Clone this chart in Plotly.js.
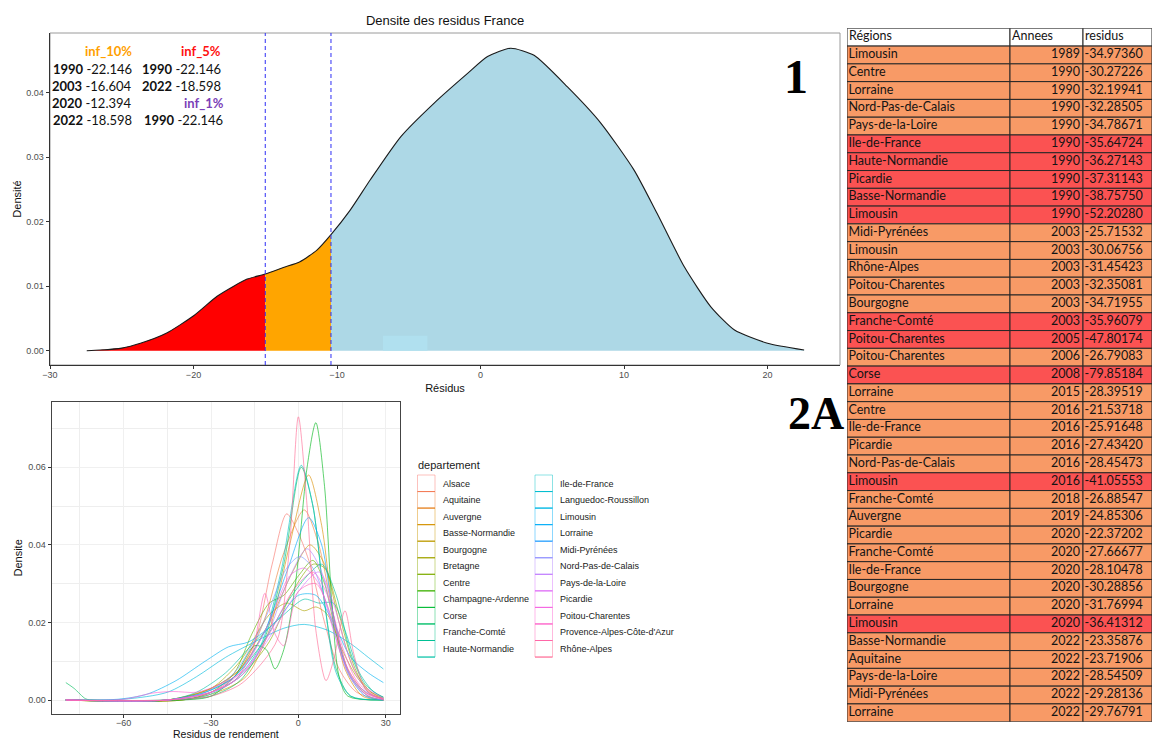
<!DOCTYPE html>
<html>
<head>
<meta charset="utf-8">
<script src="https://cdn.plot.ly/plotly-3.0.1.min.js"></script>
<style>
  html, body { margin: 0; padding: 0; background: #fff; }
  #chart { width: 1153px; height: 740px; }
</style>
</head>
<body>
<div id="chart"></div>
<script>
// ---------- Panel 1: national residual density ----------
const franceX = [-27.44, -26.5, -25.0, -23.7, -21.9, -19.94, -18.38, -17.2, -16.26, -15.0, -13.74, -12.58, -11.4, -10.42, -9.08, -7.68, -5.55, -3.23, -0.9, 0.49, 2.1, 3.73, 6.06, 8.38, 10.7, 12.3, 14.2, 16.05, 17.7, 20.0, 22.55];
const franceY = [0.0, 0.0001, 0.0004, 0.00115, 0.0027, 0.0055, 0.0084, 0.0100, 0.0111, 0.0119, 0.0129, 0.0138, 0.0156, 0.0180, 0.0218, 0.0265, 0.0332, 0.0384, 0.0430, 0.0456, 0.0469, 0.0458, 0.0409, 0.0353, 0.0280, 0.0213, 0.0130, 0.0068, 0.0032, 0.00115, 0.0001];
const q5 = -15.0;
const q10 = -10.42;
const bandX = [-6.8, -3.7];
const bandY = [0.0023, 0.0023];

const inf10Years = [1990, 2003, 2020, 2022];
const inf10Vals = ['-22.146', '-16.604', '-12.394', '-18.598'];
const inf5Years = [1990, 2022];
const inf5Vals = ['-22.146', '-18.598'];
const inf1Years = [1990];
const inf1Vals = ['-22.146'];

// ---------- Panel 2A: table of low residuals ----------
const tabHeader = ['Régions', 'Annees', 'residus'];
const tabRegions = ['Limousin','Centre','Lorraine','Nord-Pas-de-Calais','Pays-de-la-Loire','Ile-de-France','Haute-Normandie','Picardie','Basse-Normandie','Limousin','Midi-Pyrénées','Limousin','Rhône-Alpes','Poitou-Charentes','Bourgogne','Franche-Comté','Poitou-Charentes','Poitou-Charentes','Corse','Lorraine','Centre','Ile-de-France','Picardie','Nord-Pas-de-Calais','Limousin','Franche-Comté','Auvergne','Picardie','Franche-Comté','Ile-de-France','Bourgogne','Lorraine','Limousin','Basse-Normandie','Aquitaine','Pays-de-la-Loire','Midi-Pyrénées','Lorraine'];
const tabYears = [1989,1990,1990,1990,1990,1990,1990,1990,1990,1990,2003,2003,2003,2003,2003,2003,2005,2006,2008,2015,2016,2016,2016,2016,2016,2018,2019,2020,2020,2020,2020,2020,2020,2022,2022,2022,2022,2022];
const tabResid = [-34.97360,-30.27226,-32.19941,-32.28505,-34.78671,-35.64724,-36.27143,-37.31143,-38.75750,-52.20280,-25.71532,-30.06756,-31.45423,-32.35081,-34.71955,-35.96079,-47.80174,-26.79083,-79.85184,-28.39519,-21.53718,-25.91648,-27.43420,-28.45473,-41.05553,-26.88547,-24.85306,-22.37202,-27.66677,-28.10478,-30.28856,-31.76994,-36.41312,-23.35876,-23.71906,-28.54509,-29.28136,-29.76791];
const severeLimit = -35;

// ---------- Bottom panel: regional densities ----------
const departements = ['Alsace','Aquitaine','Auvergne','Basse-Normandie','Bourgogne','Bretagne','Centre','Champagne-Ardenne','Corse','Franche-Comté','Haute-Normandie','Ile-de-France','Languedoc-Roussillon','Limousin','Lorraine','Midi-Pyrénées','Nord-Pas-de-Calais','Pays-de-la-Loire','Picardie','Poitou-Charentes',"Provence-Alpes-Côte-d'Azur",'Rhône-Alpes'];

const xAlsace = [-79.85,-40,-30,-22,-15,-9,-4,0,4,9,14,20,29.2];
const yAlsace = [0,0,0.002,0.006,0.015,0.035,0.048,0.043,0.035,0.020,0.008,0.002,0];
const xAquitaine = [-79.85,-45,-30,-20,-12,-5,2,7,12,17,23,29.2];
const yAquitaine = [0,0,0.003,0.008,0.020,0.038,0.049,0.040,0.022,0.008,0.002,0.0003];
const xAuvergne = [-79.85,-40,-28,-18,-10,-3,3.5,8,12,16,22,29.2];
const yAuvergne = [0,0,0.002,0.006,0.018,0.040,0.058,0.045,0.022,0.008,0.001,0];
const xBasseNormandie = [-79.85,-45,-30,-20,-10,-2,4,9,14,19,25,29.2];
const yBasseNormandie = [0,0,0.003,0.008,0.020,0.033,0.040,0.035,0.020,0.008,0.002,0.0005];
const xBourgogne = [-79.85,-45,-30,-20,-10,-4,2,6,10,15,20,25,29.2];
const yBourgogne = [0,0,0.003,0.010,0.022,0.025,0.023,0.024,0.022,0.013,0.006,0.002,0.0007];
const xBretagne = [-79.85,-45,-30,-20,-10,-2,5,9,14,19,24,29.2];
const yBretagne = [0,0,0.002,0.006,0.015,0.028,0.035,0.034,0.022,0.009,0.002,0.0004];
const xCentre = [-79.85,-40,-30,-22,-16,-10,-5,0,5,9,13,18,24,29.2];
const yCentre = [0,0,0.002,0.007,0.017,0.025,0.027,0.032,0.036,0.030,0.017,0.006,0.001,0];
const xChampagne = [-79.85,-40,-30,-22,-15,-11,-8,-5,-1,3,6,9,11.5,14,17,29.2];
const yChampagne = [0,0,0.001,0.006,0.014,0.013,0.008,0.013,0.030,0.060,0.0715,0.055,0.025,0.006,0.001,0];
const xCorse = [-79.85,-77,-73,-70,-45,-30,-20,-12,-5,1,5,9,13,18,29.2];
const yCorse = [0.0045,0.003,0.0003,0,0,0.001,0.005,0.015,0.035,0.060,0.050,0.025,0.008,0.001,0];
const xFrancheComte = [-79.85,-45,-32,-22,-12,-4,3,8,13,18,23,29.2];
const yFrancheComte = [0,0,0.002,0.006,0.015,0.025,0.032,0.035,0.027,0.012,0.004,0.0006];
const xHauteNormandie = [-79.85,-45,-35,-25,-15,-5,2,7,12,16,21,26,29.2];
const yHauteNormandie = [0,0,0.002,0.007,0.015,0.022,0.026,0.025,0.025,0.018,0.007,0.002,0.0008];
const xIleDeFrance = [-79.85,-45,-32,-22,-13,-6,1,5,9,13,18,29.2];
const yIleDeFrance = [0,0,0.001,0.005,0.014,0.033,0.0605,0.050,0.025,0.007,0.001,0];
const xLanguedoc = [-79.85,-60,-45,-35,-25,-15,-5,2,10,18,24,29.2];
const yLanguedoc = [0,0.0002,0.002,0.006,0.011,0.015,0.0185,0.0195,0.018,0.0145,0.011,0.008];
const xLimousin = [-79.85,-62,-52,-42,-32,-24,-17,-8,0,6,12,18,24,29.2];
const yLimousin = [0,0.0002,0.0015,0.005,0.010,0.0137,0.015,0.020,0.027,0.027,0.020,0.011,0.007,0.0045];
const xLorraine = [-79.85,-45,-32,-22,-12,-4,3.5,8,12,17,23,29.2];
const yLorraine = [0,0,0.002,0.006,0.017,0.033,0.047,0.040,0.022,0.007,0.001,0];
const xMidiPyrenees = [-79.85,-45,-32,-22,-12,-4,0.5,5,10,15,20,26,29.2];
const yMidiPyrenees = [0,0,0.002,0.007,0.020,0.034,0.037,0.034,0.024,0.011,0.004,0.001,0.0003];
const xNordPas = [-79.85,-45,-30,-20,-11,-4,3,8,13,18,24,29.2];
const yNordPas = [0,0,0.002,0.006,0.016,0.030,0.039,0.033,0.018,0.006,0.001,0];
const xPaysLoire = [-79.85,-45,-30,-20,-10,-2,7,12,17,22,29.2];
const yPaysLoire = [0,0,0.002,0.006,0.016,0.026,0.033,0.025,0.012,0.004,0.0005];
const xPicardie = [-79.85,-45,-30,-20,-10,-3,2,7,12,17,22,29.2];
const yPicardie = [0,0,0.002,0.007,0.020,0.032,0.034,0.030,0.018,0.007,0.002,0.0002];
const xPoitou = [-79.85,-60,-50,-43,-35,-27,-18,-10,-2,5,10,15,20,26,29.2];
const yPoitou = [0,0.0002,0.0018,0.0022,0.002,0.004,0.008,0.017,0.028,0.033,0.027,0.014,0.005,0.001,0.0003];
const xProvence = [-79.85,-45,-30,-22,-16,-11.5,-8,-5,0,6,12,17,23,29.2];
const yProvence = [0,0,0.002,0.005,0.012,0.0275,0.017,0.014,0.028,0.030,0.020,0.008,0.002,0.0003];
const xRhoneAlpes = [-79.85,-45,-30,-20,-12,-7,-3,0,3,6,9.5,12,16,19,23,29.2];
const yRhoneAlpes = [0,0,0.001,0.004,0.010,0.016,0.040,0.073,0.050,0.018,0.005,0.010,0.023,0.012,0.003,0];

const curvesX = [xAlsace,xAquitaine,xAuvergne,xBasseNormandie,xBourgogne,xBretagne,xCentre,xChampagne,xCorse,xFrancheComte,xHauteNormandie,xIleDeFrance,xLanguedoc,xLimousin,xLorraine,xMidiPyrenees,xNordPas,xPaysLoire,xPicardie,xPoitou,xProvence,xRhoneAlpes];
const curvesY = [yAlsace,yAquitaine,yAuvergne,yBasseNormandie,yBourgogne,yBretagne,yCentre,yChampagne,yCorse,yFrancheComte,yHauteNormandie,yIleDeFrance,yLanguedoc,yLimousin,yLorraine,yMidiPyrenees,yNordPas,yPaysLoire,yPicardie,yPoitou,yProvence,yRhoneAlpes];

// ---------- helpers ----------
const W = 1153, H = 740;
const px = v => v / W;
const py = v => 1 - v / H;

// HCL (polar Luv) to hex, as used by the default discrete hue palette
function hclHex(h, c, l) {
  const r2 = Math.PI / 180;
  const U = c * Math.cos(h * r2), V = c * Math.sin(h * r2);
  const Xn = 95.047, Yn = 100, Zn = 108.883;
  const Y = l > 8 ? Yn * Math.pow((l + 16) / 116, 3) : Yn * l / 903.3;
  const t = Xn + 15 * Yn + 3 * Zn;
  const un = 4 * Xn / t, vn = 9 * Yn / t;
  const u = U / (13 * l) + un, v = V / (13 * l) + vn;
  const X = Y * 9 * u / (4 * v);
  const Z = Y * (12 - 3 * u - 20 * v) / (4 * v);
  const x = X / 100, y = Y / 100, z = Z / 100;
  const lin = [
    3.240479 * x - 1.537150 * y - 0.498535 * z,
    -0.969256 * x + 1.875992 * y + 0.041556 * z,
    0.055648 * x - 0.204043 * y + 1.057311 * z
  ];
  return '#' + lin.map(q => {
    let g = q <= 0.0031308 ? 12.92 * q : 1.055 * Math.pow(q, 1 / 2.4) - 0.055;
    g = Math.max(0, Math.min(1, g));
    return Math.round(g * 255).toString(16).padStart(2, '0');
  }).join('');
}
const nDep = departements.length;
const hueColors = departements.map((_, i) => hclHex(15 + i * 360 / nDep, 100, 65));
function withAlpha(hex, a) {
  const n = parseInt(hex.slice(1), 16);
  return `rgba(${(n >> 16) & 255},${(n >> 8) & 255},${n & 255},${a})`;
}

const traces = [];

// Density fill, split at the two quantile thresholds
function segment(lo, hi) {
  const xs = [], ys = [];
  franceX.forEach((x, i) => { if (x >= lo && x <= hi) { xs.push(x); ys.push(franceY[i]); } });
  return { x: xs, y: ys };
}
const segRed = segment(-Infinity, q5);
const segOrange = segment(q5, q10);
const segBlue = segment(q10, Infinity);
[[segRed, '#FF0000'], [segOrange, '#FFA500'], [segBlue, '#ADD8E6']].forEach(([s, col]) => {
  traces.push({
    type: 'scatter', mode: 'lines', x: s.x, y: s.y, xaxis: 'x', yaxis: 'y',
    fill: 'tozeroy', fillcolor: col, line: { width: 0, shape: 'spline', smoothing: 0.6 },
    hoverinfo: 'skip', showlegend: false
  });
});
traces.push({
  type: 'scatter', mode: 'lines', x: bandX, y: bandY, xaxis: 'x', yaxis: 'y',
  fill: 'tozeroy', fillcolor: '#B0E0EF', line: { width: 0 }, hoverinfo: 'skip', showlegend: false
});
traces.push({
  type: 'scatter', mode: 'lines', x: franceX, y: franceY, xaxis: 'x', yaxis: 'y',
  line: { color: '#1a1a1a', width: 1.1, shape: 'spline', smoothing: 0.6 },
  hoverinfo: 'x+y', showlegend: false
});

// Regional density curves
departements.forEach((d, i) => {
  traces.push({
    type: 'scatter', mode: 'lines', name: d, x: curvesX[i], y: curvesY[i],
    xaxis: 'x2', yaxis: 'y2', opacity: 0.9,
    line: { color: hueColors[i], width: 0.7, shape: 'spline', smoothing: 0.8 },
    showlegend: false
  });
});

// Table of residuals: one row of cells per record, header on row 0
const colEdges = [0, 163, 236, 305];
const nRows = tabRegions.length + 1;
const rowIdx = Array.from({ length: nRows }, (_, i) => i);
const rowFill = ['#ffffff'].concat(tabResid.map(r => r < severeLimit ? '#FB5252' : '#F89A66'));
for (let c = 0; c < 3; c++) {
  traces.push({
    type: 'bar', orientation: 'h', xaxis: 'x3', yaxis: 'y3',
    y: rowIdx, x: rowIdx.map(() => colEdges[c + 1] - colEdges[c]), base: colEdges[c], width: 1,
    marker: { color: rowFill, line: { color: '#262626', width: 1 } },
    hoverinfo: 'skip', showlegend: false
  });
}
const cellFont = { family: 'Lato, sans-serif', size: 12.5, color: '#141414' };
const bodyIdx = rowIdx.slice(1);
traces.push({
  type: 'scatter', mode: 'text', xaxis: 'x3', yaxis: 'y3', cliponaxis: false,
  x: colEdges.slice(0, 3).map(e => e + 2), y: [0, 0, 0], text: tabHeader,
  textposition: 'middle right', textfont: cellFont, hoverinfo: 'skip', showlegend: false
});
traces.push({
  type: 'scatter', mode: 'text', xaxis: 'x3', yaxis: 'y3', cliponaxis: false,
  x: bodyIdx.map(() => colEdges[0] + 1.5), y: bodyIdx, text: tabRegions,
  textposition: 'middle right', textfont: cellFont, hoverinfo: 'skip', showlegend: false
});
traces.push({
  type: 'scatter', mode: 'text', xaxis: 'x3', yaxis: 'y3', cliponaxis: false,
  x: bodyIdx.map(() => colEdges[2] - 3), y: bodyIdx, text: tabYears.map(String),
  textposition: 'middle left', textfont: cellFont, hoverinfo: 'skip', showlegend: false
});
traces.push({
  type: 'scatter', mode: 'text', xaxis: 'x3', yaxis: 'y3', cliponaxis: false,
  x: bodyIdx.map(() => colEdges[2] + 1.5), y: bodyIdx, text: tabResid.map(r => r.toFixed(5)),
  textposition: 'middle right', textfont: cellFont, hoverinfo: 'skip', showlegend: false
});

// Annotations
const ann = [];
const calib = 'Lato, sans-serif';
function note(text, xr, yc, color, bold) {
  ann.push({
    xref: 'paper', yref: 'paper', x: px(xr), y: py(yc), xanchor: 'right', yanchor: 'middle',
    text: bold ? '<b>' + text + '</b>' : text, showarrow: false,
    font: { family: calib, size: 13, color: color }
  });
}
note('inf_10%', 134, 51, '#FFA000', true);
inf10Years.forEach((yr, i) => note('<b>' + yr + '</b> ' + inf10Vals[i], 134, 69 + 17 * i, '#111', false));
note('inf_5%', 223, 51, '#FF1010', true);
inf5Years.forEach((yr, i) => note('<b>' + yr + '</b> ' + inf5Vals[i], 223, 69 + 17 * i, '#111', false));
note('inf_1%', 226, 103, '#7B3FB8', true);
inf1Years.forEach((yr, i) => note('<b>' + yr + '</b> ' + inf1Vals[i], 225, 120 + 17 * i, '#111', false));

ann.push({ xref: 'paper', yref: 'paper', x: px(796), y: py(76), xanchor: 'center', yanchor: 'middle',
  text: '<b>1</b>', showarrow: false, font: { family: 'Liberation Serif, serif', size: 48, color: '#000' } });
ann.push({ xref: 'paper', yref: 'paper', x: px(816), y: py(413), xanchor: 'center', yanchor: 'middle',
  text: '<b>2A</b>', showarrow: false, font: { family: 'Liberation Serif, serif', size: 46, color: '#000' } });

// Legend of the regional panel
const shapes = [];
ann.push({ xref: 'paper', yref: 'paper', x: px(416), y: py(465), xanchor: 'left', yanchor: 'middle',
  text: 'departement', showarrow: false, font: { family: 'Liberation Sans, Arial', size: 11, color: '#1a1a1a' } });
const perCol = Math.ceil(nDep / 2);
departements.forEach((d, i) => {
  const col = Math.floor(i / perCol), row = i % perCol;
  const x0 = 417.5 + col * 117.5, y0 = 475 + row * 16.55;
  shapes.push({ type: 'rect', xref: 'paper', yref: 'paper', x0: px(x0), x1: px(x0 + 17.5), y0: py(y0), y1: py(y0 + 16.55),
    line: { color: withAlpha(hueColors[i], 0.45), width: 1 }, fillcolor: 'rgba(0,0,0,0)' });
  shapes.push({ type: 'line', xref: 'paper', yref: 'paper', x0: px(x0), x1: px(x0 + 17.5), y0: py(y0 + 16.55), y1: py(y0 + 16.55),
    line: { color: hueColors[i], width: 1 } });
  ann.push({ xref: 'paper', yref: 'paper', x: px(x0 + 23), y: py(y0 + 8.5), xanchor: 'left', yanchor: 'middle',
    text: d, showarrow: false, font: { family: 'Liberation Sans, Arial', size: 9, color: '#1a1a1a' } });
});

// Panel 1 border and quantile lines
shapes.push({ type: 'rect', xref: 'x domain', yref: 'y domain', x0: 0, x1: 1, y0: 0, y1: 1,
  line: { color: '#9a9a9a', width: 1 }, fillcolor: 'rgba(0,0,0,0)', layer: 'below' });
[q5, q10].forEach(q => shapes.push({ type: 'line', xref: 'x', yref: 'y domain', x0: q, x1: q, y0: 0, y1: 1,
  line: { color: '#2E2EF5', width: 1, dash: '4px,3px' } }));

const tickFont = { family: 'Liberation Sans, Arial', size: 9, color: '#4d4d4d' };
const titleFont = { family: 'Liberation Sans, Arial', size: 11, color: '#111' };

const layout = {
  width: W, height: H,
  margin: { l: 0, r: 0, t: 0, b: 0 },
  paper_bgcolor: '#ffffff', plot_bgcolor: 'rgba(0,0,0,0)',
  showlegend: false,
  barmode: 'overlay', bargap: 0,
  title: { text: 'Densite des residus France', x: px(445), xanchor: 'center', y: py(20), yanchor: 'middle',
    font: { family: 'Liberation Sans, Arial', size: 13, color: '#111' } },
  xaxis: {
    domain: [px(50), px(840)], range: [-30, 25.05], anchor: 'y',
    tickvals: [-30, -20, -10, 0, 10, 20], ticks: 'outside', ticklen: 3, tickcolor: '#333', tickwidth: 1,
    ticklabelstandoff: -2,
    showline: true, linecolor: '#333', linewidth: 1.3, showgrid: false, zeroline: false,
    tickfont: tickFont, automargin: false,
    title: { text: 'Résidus', font: titleFont, standoff: 5 }
  },
  yaxis: {
    domain: [py(365), py(33)], range: [-0.00222, 0.04926], anchor: 'x',
    tickvals: [0, 0.01, 0.02, 0.03, 0.04], tickformat: '.2f', ticks: 'outside', ticklen: 3, tickcolor: '#333',
    showline: true, linecolor: '#333', linewidth: 1.3, showgrid: false, zeroline: false,
    tickfont: tickFont, automargin: false,
    title: { text: 'Densité', font: titleFont, standoff: 2 }
  },
  xaxis2: {
    domain: [px(51.7), px(400)], range: [-84.7, 34.9], anchor: 'y2',
    tickvals: [-60, -30, 0, 30], ticks: 'outside', ticklen: 3, tickcolor: '#333',
    ticklabelstandoff: -3,
    showline: true, mirror: true, linecolor: '#444', linewidth: 1, zeroline: false,
    showgrid: true, gridcolor: '#F0F0F0', gridwidth: 1,
    minor: { tickvals: [-75, -45, -15, 15], showgrid: true, gridcolor: '#EEEEEE', gridwidth: 1, ticks: '' },
    tickfont: tickFont, automargin: false,
    title: { text: 'Residus de rendement', font: { family: 'Liberation Sans, Arial', size: 10.5, color: '#111' }, standoff: 1 }
  },
  yaxis2: {
    domain: [py(714), py(401.7)], range: [-0.0036, 0.0769], anchor: 'x2',
    tickvals: [0, 0.02, 0.04, 0.06], tickformat: '.2f', ticks: 'outside', ticklen: 3, tickcolor: '#333',
    showline: true, mirror: true, linecolor: '#444', linewidth: 1, zeroline: false,
    showgrid: true, gridcolor: '#F0F0F0', gridwidth: 1,
    minor: { tickvals: [0.01, 0.03, 0.05, 0.07], showgrid: true, gridcolor: '#EEEEEE', gridwidth: 1, ticks: '' },
    tickfont: tickFont, automargin: false,
    title: { text: 'Densite', font: titleFont, standoff: 3 }
  },
  xaxis3: {
    domain: [px(847), px(1152)], range: [0, 305], anchor: 'y3', visible: false, fixedrange: true
  },
  yaxis3: {
    domain: [py(721.7), py(28.3)], range: [nRows - 0.5, -0.5], anchor: 'x3', visible: false, fixedrange: true
  },
  annotations: ann,
  shapes: shapes
};

Plotly.newPlot('chart', traces, layout, { displayModeBar: false, staticPlot: true });
</script>
</body>
</html>
